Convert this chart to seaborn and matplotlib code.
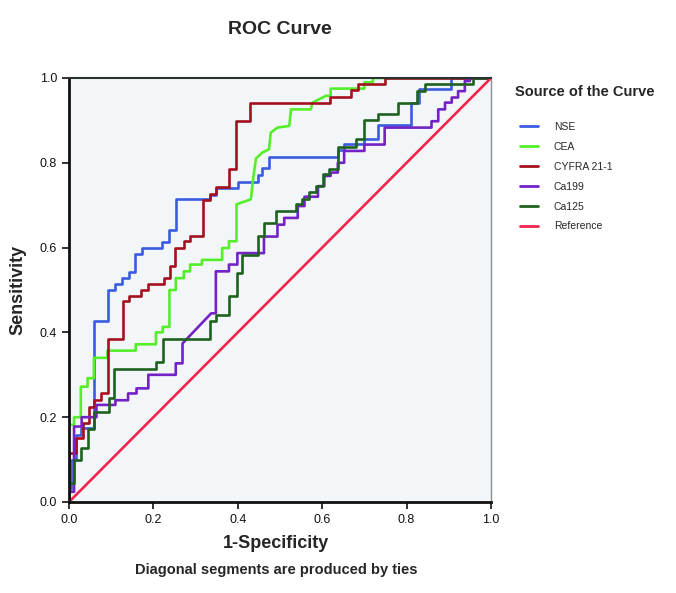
import pandas as pd
import matplotlib.pyplot as plt
import seaborn as sns
from matplotlib.lines import Line2D

# ROC vertices (1-specificity, sensitivity)
nse_x = [0, 0, 0.005, 0.005, 0.017, 0.017, 0.028, 0.028, 0.06, 0.06, 0.093, 0.093,
         0.109, 0.109, 0.125, 0.125, 0.141, 0.141, 0.157, 0.157, 0.173, 0.173, 0.22, 0.22,
         0.236, 0.236, 0.253, 0.253, 0.333, 0.333, 0.348, 0.348, 0.40, 0.40, 0.447, 0.447,
         0.458, 0.458, 0.474, 0.474, 0.637, 0.637, 0.651, 0.651, 0.70, 0.70, 0.733, 0.733,
         0.81, 0.81, 0.83, 0.83, 0.905, 0.905, 1.0]
nse_y = [0, 0.03, 0.03, 0.10, 0.10, 0.158, 0.158, 0.175, 0.175, 0.427, 0.427, 0.50,
         0.50, 0.515, 0.515, 0.528, 0.528, 0.542, 0.542, 0.586, 0.586, 0.599, 0.599, 0.613,
         0.613, 0.642, 0.642, 0.714, 0.714, 0.724, 0.724, 0.74, 0.74, 0.755, 0.755, 0.771,
         0.771, 0.787, 0.787, 0.814, 0.814, 0.83, 0.83, 0.845, 0.845, 0.856, 0.856, 0.89,
         0.89, 0.94, 0.94, 0.975, 0.975, 1.0, 1.0]

cea_x = [0, 0, 0.012, 0.012, 0.028, 0.028, 0.044, 0.044, 0.059, 0.059, 0.091, 0.091,
         0.158, 0.158, 0.206, 0.206, 0.222, 0.222, 0.238, 0.238, 0.253, 0.253, 0.272, 0.272,
         0.287, 0.287, 0.315, 0.315, 0.363, 0.363, 0.379, 0.379, 0.397, 0.397, 0.431, 0.436,
         0.443, 0.458, 0.474, 0.478, 0.494, 0.522, 0.526, 0.573, 0.577, 0.609, 0.62, 0.62,
         0.70, 0.70, 0.72, 0.72, 1.0]
cea_y = [0, 0.182, 0.182, 0.20, 0.20, 0.272, 0.272, 0.292, 0.292, 0.34, 0.34, 0.357,
         0.357, 0.372, 0.372, 0.40, 0.40, 0.413, 0.413, 0.50, 0.50, 0.528, 0.528, 0.544,
         0.544, 0.56, 0.56, 0.571, 0.571, 0.599, 0.599, 0.615, 0.615, 0.702, 0.714, 0.76,
         0.81, 0.824, 0.832, 0.871, 0.883, 0.887, 0.926, 0.926, 0.942, 0.958, 0.958, 0.975,
         0.975, 0.99, 0.99, 1.0, 1.0]

cyfra_x = [0, 0, 0.016, 0.016, 0.032, 0.032, 0.048, 0.048, 0.059, 0.059, 0.075, 0.075,
           0.093, 0.093, 0.127, 0.127, 0.141, 0.141, 0.171, 0.171, 0.188, 0.188, 0.224, 0.224,
           0.24, 0.24, 0.252, 0.252, 0.272, 0.272, 0.287, 0.287, 0.318, 0.318, 0.333, 0.333,
           0.348, 0.348, 0.38, 0.38, 0.396, 0.396, 0.429, 0.429, 0.618, 0.618, 0.669, 0.669,
           0.685, 0.685, 0.748, 0.748, 1.0]
cyfra_y = [0, 0.115, 0.115, 0.15, 0.15, 0.186, 0.186, 0.225, 0.225, 0.24, 0.24, 0.256,
           0.256, 0.384, 0.384, 0.473, 0.473, 0.487, 0.487, 0.50, 0.50, 0.515, 0.515, 0.528,
           0.528, 0.556, 0.556, 0.599, 0.599, 0.615, 0.615, 0.627, 0.627, 0.712, 0.712, 0.726,
           0.726, 0.742, 0.742, 0.785, 0.785, 0.899, 0.899, 0.942, 0.942, 0.956, 0.956, 0.972,
           0.972, 0.986, 0.986, 1.0, 1.0]

ca199_x = [0, 0, 0.012, 0.012, 0.03, 0.03, 0.065, 0.065, 0.11, 0.11, 0.14, 0.14,
           0.16, 0.16, 0.188, 0.188, 0.253, 0.253, 0.269, 0.269, 0.337, 0.348, 0.348, 0.379,
           0.379, 0.399, 0.399, 0.462, 0.462, 0.494, 0.494, 0.51, 0.51, 0.542, 0.542, 0.558,
           0.558, 0.59, 0.59, 0.605, 0.605, 0.62, 0.62, 0.637, 0.637, 0.652, 0.652, 0.70,
           0.70, 0.748, 0.748, 0.859, 0.859, 0.875, 0.875, 0.891, 0.891, 0.907, 0.907, 0.922,
           0.922, 0.938, 0.938, 0.95, 0.95, 1.0]
ca199_y = [0, 0.024, 0.024, 0.178, 0.178, 0.20, 0.20, 0.229, 0.229, 0.24, 0.24, 0.256,
           0.256, 0.268, 0.268, 0.30, 0.30, 0.327, 0.327, 0.374, 0.445, 0.445, 0.544, 0.544,
           0.56, 0.56, 0.587, 0.587, 0.626, 0.626, 0.654, 0.654, 0.67, 0.67, 0.698, 0.698,
           0.72, 0.72, 0.745, 0.745, 0.769, 0.769, 0.777, 0.777, 0.80, 0.80, 0.828, 0.828,
           0.843, 0.843, 0.883, 0.883, 0.898, 0.898, 0.926, 0.926, 0.942, 0.942, 0.954, 0.954,
           0.969, 0.969, 0.993, 0.993, 1.0, 1.0]

ca125_x = [0, 0, 0.012, 0.012, 0.028, 0.028, 0.044, 0.044, 0.059, 0.059, 0.095, 0.095,
           0.107, 0.107, 0.206, 0.206, 0.222, 0.222, 0.333, 0.333, 0.348, 0.348, 0.379, 0.379,
           0.399, 0.399, 0.411, 0.411, 0.447, 0.447, 0.462, 0.462, 0.49, 0.49, 0.537, 0.537,
           0.553, 0.553, 0.569, 0.569, 0.585, 0.585, 0.601, 0.601, 0.617, 0.617, 0.637, 0.637,
           0.681, 0.681, 0.70, 0.70, 0.733, 0.733, 0.78, 0.78, 0.825, 0.825, 0.843, 0.843,
           0.958, 0.958, 1.0]
ca125_y = [0, 0.044, 0.044, 0.099, 0.099, 0.127, 0.127, 0.172, 0.172, 0.213, 0.213, 0.245,
           0.245, 0.313, 0.313, 0.331, 0.331, 0.384, 0.384, 0.426, 0.426, 0.442, 0.442, 0.485,
           0.485, 0.54, 0.54, 0.583, 0.583, 0.627, 0.627, 0.658, 0.658, 0.686, 0.686, 0.702,
           0.702, 0.714, 0.714, 0.73, 0.73, 0.745, 0.745, 0.773, 0.773, 0.785, 0.785, 0.838,
           0.838, 0.855, 0.855, 0.90, 0.90, 0.914, 0.914, 0.942, 0.942, 0.97, 0.97, 0.987,
           0.987, 1.0, 1.0]

ref_x = [0, 1]
ref_y = [0, 1]

names = ["NSE", "CEA", "CYFRA 21-1", "Ca199", "Ca125", "Reference"]
colors = ["#3B5CE0", "#55EE2A", "#A3111F", "#7322C6", "#1E621E", "#F0244C"]

curves = [(nse_x, nse_y), (cea_x, cea_y), (cyfra_x, cyfra_y),
          (ca199_x, ca199_y), (ca125_x, ca125_y), (ref_x, ref_y)]
frames = []
for name, (xs, ys) in zip(names, curves):
    frames.append(pd.DataFrame({"fpr": xs, "tpr": ys, "curve": name}))
df = pd.concat(frames, ignore_index=True)

sns.set_style("white")
plt.rcParams["font.family"] = ["Liberation Sans", "DejaVu Sans"]

fig = plt.figure(figsize=(6.76, 5.93), dpi=100)
ax = fig.add_axes([69 / 676, 1 - 502 / 593, 422 / 676, 424 / 593])
ax.set_facecolor("#F3F6F8")

sns.lineplot(data=df, x="fpr", y="tpr", hue="curve", palette=dict(zip(names, colors)),
             sort=False, estimator=None, linewidth=1.9, legend=False, ax=ax)

ax.set_xlim(0, 1)
ax.set_ylim(0, 1)
ax.set_xticks([0, 0.2, 0.4, 0.6, 0.8, 1.0])
ax.set_yticks([0, 0.2, 0.4, 0.6, 0.8, 1.0])
ax.set_xticklabels(["0.0", "0.2", "0.4", "0.6", "0.8", "1.0"])
ax.set_yticklabels(["0.0", "0.2", "0.4", "0.6", "0.8", "1.0"])
ax.tick_params(axis="both", direction="out", length=5, width=1.2, labelsize=9,
               bottom=True, left=True, colors="#111111")
ax.set_xlabel("")
ax.set_ylabel("")
for side in ["left", "bottom"]:
    ax.spines[side].set_color("#111111")
    ax.spines[side].set_linewidth(2)
ax.spines["top"].set_color("#2A3232")
ax.spines["top"].set_linewidth(1.5)
ax.spines["right"].set_color("#8A8F90")
ax.spines["right"].set_linewidth(1)

fig.text(280 / 676, 1 - 30 / 593, "ROC Curve", ha="center", va="center",
         fontsize=14, fontweight="bold")
fig.text(276 / 676, 1 - 543 / 593, "1-Specificity", ha="center", va="center",
         fontsize=13, fontweight="bold")
fig.text(276 / 676, 1 - 570 / 593, "Diagonal segments are produced by ties", ha="center",
         va="center", fontsize=10.5, fontweight="bold")
fig.text(18 / 676, 1 - 290 / 593, "Sensitivity", ha="center", va="center",
         rotation=90, fontsize=13, fontweight="bold")

# legend title placed on its own, entries below it
fig.text(515 / 676, 1 - 92 / 593, "Source of the Curve", ha="left", va="center",
         fontsize=10.5, fontweight="bold")
handles = [Line2D([0], [0], color=c, linewidth=2) for c in colors]
leg = fig.legend(handles, names, loc="upper left",
                 bbox_to_anchor=(520 / 676, 1 - 122 / 593), frameon=False, fontsize=7.5,
                 handlelength=1.75, handletextpad=1.5, labelspacing=0.95,
                 borderaxespad=0, borderpad=0)

fig.savefig("out.png", dpi=100, facecolor="white")
